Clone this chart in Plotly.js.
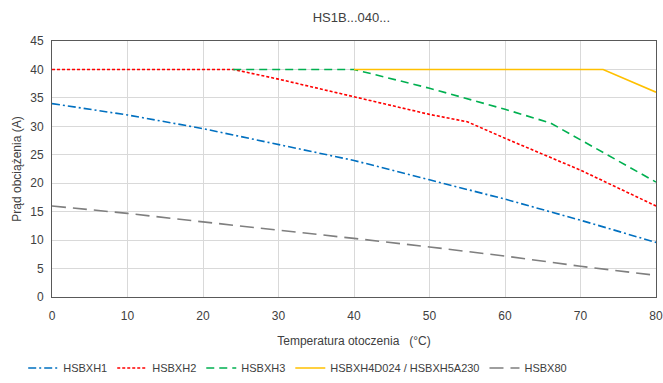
<!DOCTYPE html>
<html><head><meta charset="utf-8">
<script src="https://cdn.plot.ly/plotly-3.0.1.min.js"></script>
<style>html,body{margin:0;padding:0;background:#fff}</style>
</head><body><div id="chart" style="width:663px;height:383px"></div>
<script>
const names = ["HSBXH1","HSBXH2","HSBXH3","HSBXH4D024 / HSBXH5A230","HSBX80"];
const x1 = [0,10,20,30,40,50,60,70,80];
const y1 = [34,32,29.6,26.8,24,20.6,17.2,13.5,9.6];
const x2 = [0,24,30,40,50,55,60,70,80];
const y2 = [40,40,38.3,35.2,32.1,30.8,27.9,22.3,16];
const x3 = [24,40,50,60,66,70,80];
const y3 = [40,40,36.7,33,30.6,27.6,20.2];
const x4 = [40,73,80];
const y4 = [40,40,36];
const x5 = [0,10,20,30,40,50,60,70,80];
const y5 = [16,14.7,13.2,11.8,10.3,8.8,7.2,5.4,3.8];
const xTicks = [0,10,20,30,40,50,60,70,80];
const yTicks = [0,5,10,15,20,25,30,35,40,45];

const colors = ["#0070C0","#FF0000","#00B050","#FFC000","#7F7F7F"];
const dashes = ["8px,3px,2px,3px","3px,2px","8px,5px","solid","14px,7px"];
const xs=[x1,x2,x3,x4,x5], ys=[y1,y2,y3,y4,y5];
const traces = names.map((n,i)=>({
  x: xs[i], y: ys[i], name: n, mode: 'lines', type: 'scatter',
  line: {color: colors[i], width: 1.6, dash: dashes[i]}
}));
const fam = "Liberation Sans Narrow, Arial Narrow, Liberation Sans, Arial, sans-serif";
const font = {family: fam, size: 12, color: "#404040"};
const layout = {
  width: 663, height: 383,
  margin: {l: 52, r: 7, t: 41, b: 86},
  paper_bgcolor: "#fff", plot_bgcolor: "#fff",
  font: font,
  title: {text: "HS1B...040...", x: 0.53, xanchor: 'center', y: 0.955, yanchor: 'middle', font: {family: fam, size: 13, color: "#404040"}},
  xaxis: {range: [0,80], tickvals: xTicks, ticktext: xTicks.map(String), showgrid: true, gridcolor: "#D9D9D9",
    linecolor: "#595959", linewidth: 1, mirror: true, showline: true, zeroline: false, ticks: "",
    ticklabeloverflow: 'allow', ticklabelstandoff: 8, tickfont: {family: fam, size: 12, color: "#404040"},
    title: {text: "Temperatura otoczenia   (°C)", standoff: 14, font: font}},
  yaxis: {range: [0,45], tickvals: yTicks, ticktext: yTicks.map(String), showgrid: true, gridcolor: "#D9D9D9",
    linecolor: "#595959", linewidth: 1, mirror: true, showline: true, zeroline: false, ticks: "",
    ticklabelstandoff: 5, tickfont: {family: fam, size: 12, color: "#404040"},
    title: {text: "Prąd obciążenia (A)", standoff: 6, font: font}},
  legend: {orientation: 'h', xref: 'container', x: 0.035, xanchor: 'left', yref: 'container', y: 0.039, yanchor: 'middle', font: {family: fam, size: 11, color: "#404040"}, itemgap: 6, tracegroupgap: 0},
  showlegend: true
};
Plotly.newPlot('chart', traces, layout, {displayModeBar: false, staticPlot: true});
</script></body></html>
